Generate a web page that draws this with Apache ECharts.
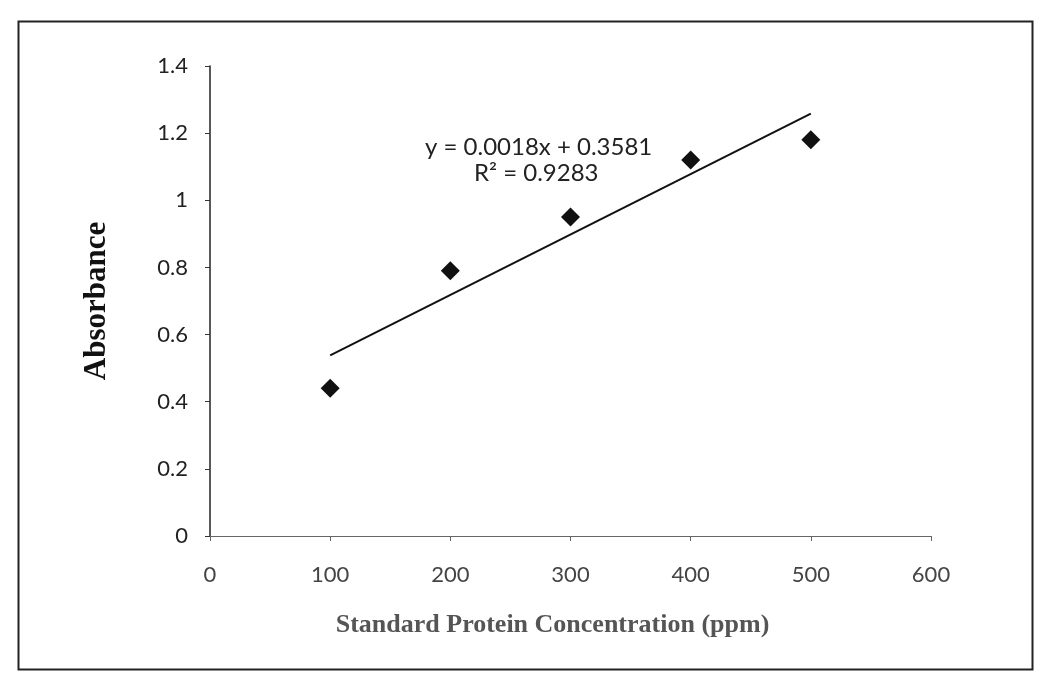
<!DOCTYPE html>
<html>
<head>
<meta charset="utf-8">
<script src="https://cdn.jsdelivr.net/npm/echarts@6/dist/echarts.min.js"></script>
<style>
html,body{margin:0;padding:0;background:#fff;}
#chart{width:1038px;height:673px;}
</style>
</head>
<body>
<div id="chart"></div>
<script>
// Data
var concentrations = [100, 200, 300, 400, 500];
var absorbances = [0.44, 0.79, 0.95, 1.12, 1.18];
var trendSlope = 0.0018;
var trendIntercept = 0.3581;
var rSquared = 0.9283;
var xTicks = [0, 100, 200, 300, 400, 500, 600];
var yTicks = [0, 0.2, 0.4, 0.6, 0.8, 1, 1.2, 1.4];

var points = concentrations.map(function (c, i) { return [c, absorbances[i]]; });
var xStart = concentrations[0], xEnd = concentrations[concentrations.length - 1];
var trend = [[xStart, trendIntercept + trendSlope * xStart], [xEnd, trendIntercept + trendSlope * xEnd]];

var chart = echarts.init(document.getElementById('chart'), null, {renderer: 'canvas'});
chart.setOption({
  animation: false,
  backgroundColor: '#fff',
  grid: {left: 210, right: 107, top: 66, bottom: 137, containLabel: false},
  xAxis: {
    type: 'value', min: xTicks[0], max: xTicks[xTicks.length - 1], interval: 100,
    name: 'Standard Protein Concentration (ppm)',
    nameLocation: 'middle', nameGap: 76,
    nameTextStyle: {fontFamily: 'Liberation Serif', fontWeight: 'bold', fontSize: 26, color: '#555',
      padding: [0, 36, 0, 0]},
    axisLine: {show: true, lineStyle: {color: '#666', width: 1.2}},
    axisTick: {show: true, length: 5, lineStyle: {color: '#666'}},
    axisLabel: {margin: 28, fontFamily: 'Lato', fontSize: 22, color: '#444'},
    splitLine: {show: false}
  },
  yAxis: {
    type: 'value', min: yTicks[0], max: yTicks[yTicks.length - 1], interval: 0.2,
    name: 'Absorbance',
    nameLocation: 'middle', nameGap: 98, nameRotate: 90,
    nameTextStyle: {fontFamily: 'Liberation Serif', fontWeight: 'bold', fontSize: 31, color: '#111'},
    axisLine: {show: true, lineStyle: {color: '#222', width: 1.5}},
    axisTick: {show: true, length: 5, lineStyle: {color: '#333'}},
    axisLabel: {margin: 22, fontFamily: 'Lato', fontSize: 22, color: '#222',
      formatter: function (v) { return String(Math.round(v * 10) / 10); }},
    splitLine: {show: false}
  },
  series: [
    {
      type: 'line', data: trend, symbol: 'none',
      lineStyle: {color: '#111', width: 2}, silent: true, z: 2
    },
    {
      type: 'scatter', data: points, symbol: 'diamond', symbolSize: 19,
      itemStyle: {color: '#111', opacity: 1}, z: 3
    }
  ],
  graphic: [
    {type: 'rect', left: 16, top: 19, shape: {width: 1014, height: 648},
      style: {fill: 'none', stroke: '#222', lineWidth: 2}, z: -1, silent: true},
    {type: 'text', x: 425, y: 147,
      style: {text: 'y = ' + trendSlope.toFixed(4) + 'x + ' + trendIntercept.toFixed(4),
        font: '24px Lato', fill: '#222', verticalAlign: 'middle'}},
    {type: 'text', x: 474, y: 173,
      style: {text: 'R² = ' + rSquared.toFixed(4), font: '24px Lato', fill: '#222', verticalAlign: 'middle'}}
  ]
});
</script>
</body>
</html>
